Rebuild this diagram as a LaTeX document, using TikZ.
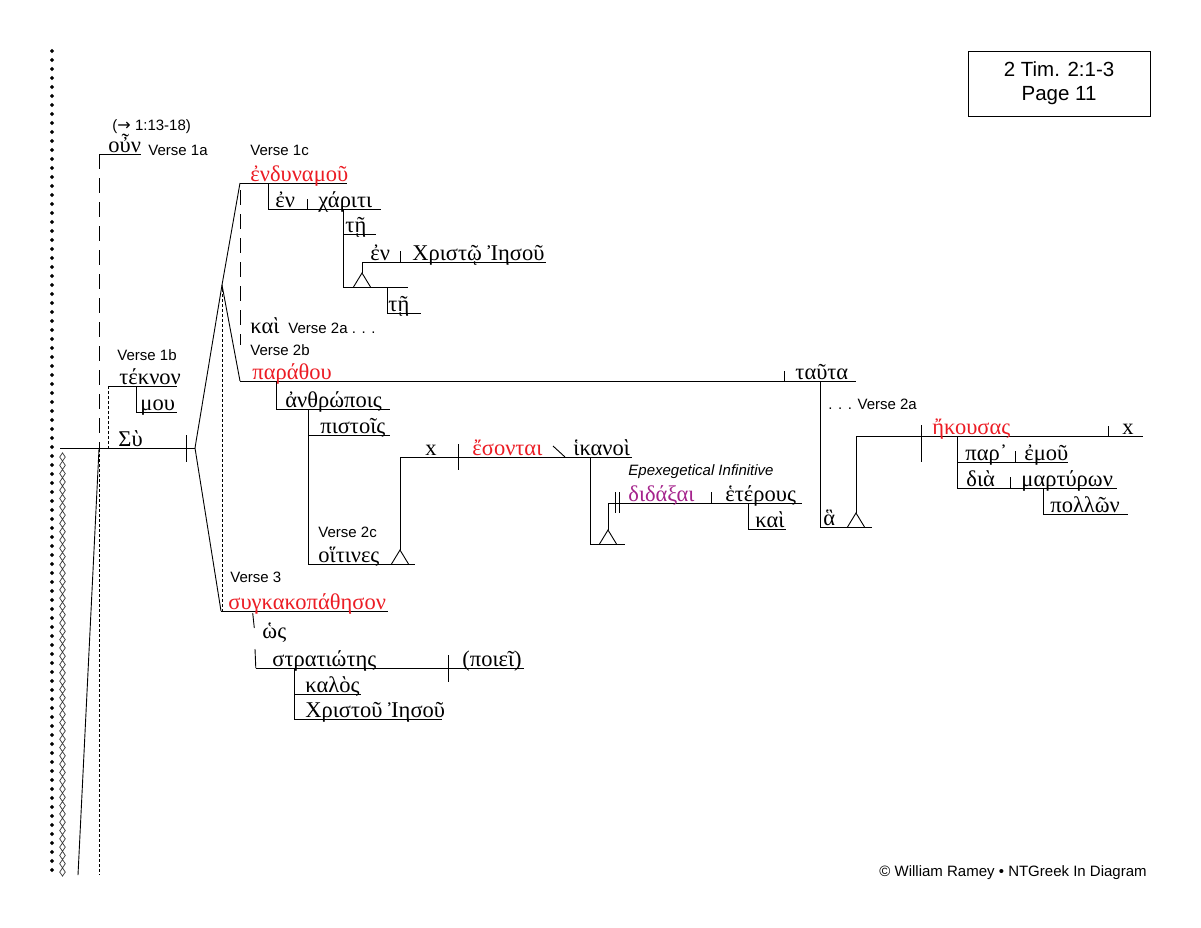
\documentclass[tikz,border=0pt]{standalone}
\usepackage{fontspec}
\setmainfont{Liberation Sans}
\newfontfamily\gkfont{Liberation Serif}
\newfontfamily\symfont{DejaVu Sans}
\definecolor{vred}{RGB}{236,28,36}
\definecolor{vpurple}{RGB}{165,35,140}
\begin{document}
\begin{tikzpicture}[x=1pt,y=-1pt,line width=0.9pt,
  lbl/.style={anchor=base west,inner sep=0pt,font=\fontsize{15}{17}\selectfont},
  gr/.style={anchor=base west,inner sep=0pt,font=\gkfont\fontsize{22.5}{24}\selectfont},
  verb/.style={gr,text=vred},
  infin/.style={gr,text=vpurple},
  longdash/.style={dash pattern=on 15pt off 9pt},
  finedash/.style={dash pattern=on 3pt off 2pt},
  tri/.pic={\draw (-8.5,0) -- (0,-14) -- (8.5,0);}
]
\useasboundingbox (0,0) rectangle (1201,927);
\fill[white] (0,0) rectangle (1201,927);

% margin columns
\foreach \i in {0,...,91}
  \fill (52,{51+9*\i-2.2}) -- ++(2,2.2) -- ++(-2,2.2) -- ++(-2,-2.2) -- cycle;
\foreach \i in {0,...,50}
  \draw[line width=0.75pt,black!75] (62.5,{457+8.3*\i-4.1}) -- ++(2.8,4.1) -- ++(-2.8,4.1) -- ++(-2.8,-4.1) -- cycle;

% main clause line (Su)
\draw (60,448) -- (195,448);
\draw (186,435) -- (186,462);
\coordinate (apex) at (195,448);
\coordinate (fork) at (222,285);
\draw (apex) -- (fork);
\draw (fork) -- (240,183);
\draw (fork) -- (240,381);
\draw (apex) -- (221,611);
\draw[finedash] (222,289) -- (222,611);
\draw[longdash] (240,190) -- (240,345);

% oun
\draw (99,154) -- (141,154);
\draw[longdash] (99,154) -- (99,448);
% teknon mou
\draw (108,386) -- (177,386);
\draw[finedash] (108,386) -- (108,448);
\draw (136,386) -- (136,412) -- (177,412);
% below main line
\draw (99,449) -- (78,875);
\draw[finedash] (99,449) -- (99,875);

% Verse 1c
\draw (240,183) -- (347,183);
\draw (268,183) -- (268,209) -- (381,209);
\draw (307,199) -- (307,209);
\draw (343,209) -- (343,287);
\draw (343,234) -- (376,234);
\draw (362,262) -- (546,262);
\draw (400,251) -- (400,262);
\draw (362,262) -- (362,273);
\pic at (362,287) {tri};
\draw (343,287) -- (408,287);
\draw (387,287) -- (387,313) -- (421,313);

% Verse 2b
\draw (240,381) -- (856,381);
\draw (784,371) -- (784,381);
\draw (276,381) -- (276,409) -- (390,409);
\draw (308,409) -- (308,564);
\draw (308,435) -- (390,435);
\draw (308,564) -- (415,564);
\pic at (400,564) {tri};
\draw (400,550) -- (400,457);
\draw (400,457) -- (632,457);
\draw (458,444) -- (458,470);
\draw (553,446) -- (565,457);
\draw (590,457) -- (590,544) -- (625,544);
\pic at (608,544) {tri};
\draw (608,530) -- (608,503) -- (802,503);
\draw (615,492) -- (615,513);
\draw (619,492) -- (619,513);
\draw (711,492) -- (711,503);
\draw (748,503) -- (748,529) -- (786,529);

% relative clause ha
\draw (820,381) -- (820,527) -- (872,527);
\pic at (856,527) {tri};
\draw (856,513) -- (856,436) -- (1143,436);
\draw (921,425) -- (921,462);
\draw (1108,426) -- (1108,436);
\draw (957,436) -- (957,488);
\draw (957,462) -- (1068,462);
\draw (1015,451) -- (1015,462);
\draw (957,488) -- (1117,488);
\draw (1010,477) -- (1010,488);
\draw (1043,488) -- (1043,514) -- (1128,514);

% Verse 3
\draw (221,611) -- (388,611);
\draw (252.7,613) -- (254.3,628);
\draw (255,649) -- (255.8,668);
\draw (255.8,668) -- (524,668);
\draw (448,655) -- (448,682);
\draw (294,668) -- (294,720);
\draw (294,694) -- (361,694);
\draw (294,719) -- (442,719);

% texts
\node[lbl] (ref) at (112,130) {({\symfont\fontsize{16}{17}\selectfont →} 1:13-18)};
\node[gr] (oun) at (108,152) {οὖν};
\node[lbl] (v1a) at (148,155) {Verse 1a};
\node[lbl] (v1b) at (117,360) {Verse 1b};
\node[gr] (teknon) at (119,384) {τέκνον};
\node[gr] (mou) at (140,410) {μου};
\node[gr] (su) at (118,446) {Σὺ};
\node[lbl] (v1c) at (250,155) {Verse 1c};
\node[verb] (endyn) at (250,181) {ἐνδυναμοῦ};
\node[gr] (en1) at (275,207) {ἐν};
\node[gr] (chariti) at (318,207) {χάριτι};
\node[gr] (te1) at (345,232) {τῇ};
\node[gr] (en2) at (370,260) {ἐν};
\node[gr] (christo) at (412,260) {Χριστῷ Ἰησοῦ};
\node[gr] (te2) at (388,311) {τῇ};
\node[gr] (kai1) at (250,333) {καὶ};
\node[lbl] (v2a) at (288,333) {Verse 2a . . .};
\node[lbl] (v2b) at (250,355) {Verse 2b};
\node[verb] (parathou) at (252,379) {παράθου};
\node[gr] (anthr) at (285,407) {ἀνθρώποις};
\node[gr] (pistois) at (320,433) {πιστοῖς};
\node[lbl] (v2c) at (318,537) {Verse 2c};
\node[gr] (hoitines) at (318,562) {οἵτινες};
\node[gr] (x1) at (425,455) {x};
\node[verb] (esontai) at (472,455) {ἔσονται};
\node[gr] (hikanoi) at (573,455) {ἱκανοὶ};
\node[lbl,font=\fontsize{15}{17}\selectfont\itshape] (epex) at (628,475) {Epexegetical Infinitive};
\node[infin] (didaxai) at (628,501) {διδάξαι};
\node[gr] (heterous) at (725,501) {ἑτέρους};
\node[gr] (kai2) at (755,527) {καὶ};
\node[gr] (tauta) at (795,379) {ταῦτα};
\node[lbl] (v2a2) at (828,409) {. . . Verse 2a};
\node[gr] (ha) at (823,525) {ἃ};
\node[verb] (ekousas) at (932,434) {ἤκουσας};
\node[gr] (x2) at (1122,434) {x};
\node[gr] (par) at (965,460) {παρ᾿};
\node[gr] (emou) at (1024,460) {ἐμοῦ};
\node[gr] (dia) at (966,486) {διὰ};
\node[gr] (martyron) at (1021,486) {μαρτύρων};
\node[gr] (pollon) at (1050,512) {πολλῶν};
\node[lbl] (v3) at (230,582) {Verse 3};
\node[verb] (synk) at (228,609) {συγκακοπάθησον};
\node[gr] (hos) at (262,638) {ὡς};
\node[gr] (strat) at (272,666) {στρατιώτης};
\node[gr] (poiei) at (462,666) {(ποιεῖ)};
\node[gr] (kalos) at (305,692) {καλὸς};
\node[gr] (christou) at (305,717) {Χριστοῦ Ἰησοῦ};

\node[draw,line width=0.9pt,minimum width=182pt,minimum height=65pt,align=center,
  font=\fontsize{20.5}{24}\selectfont] (box) at (1059,83.5) {2 Tim. 2:1-3\\Page 11};
\node[lbl] (copy) at (879,876) {© William Ramey • NTGreek In Diagram};
\end{tikzpicture}
\end{document}
